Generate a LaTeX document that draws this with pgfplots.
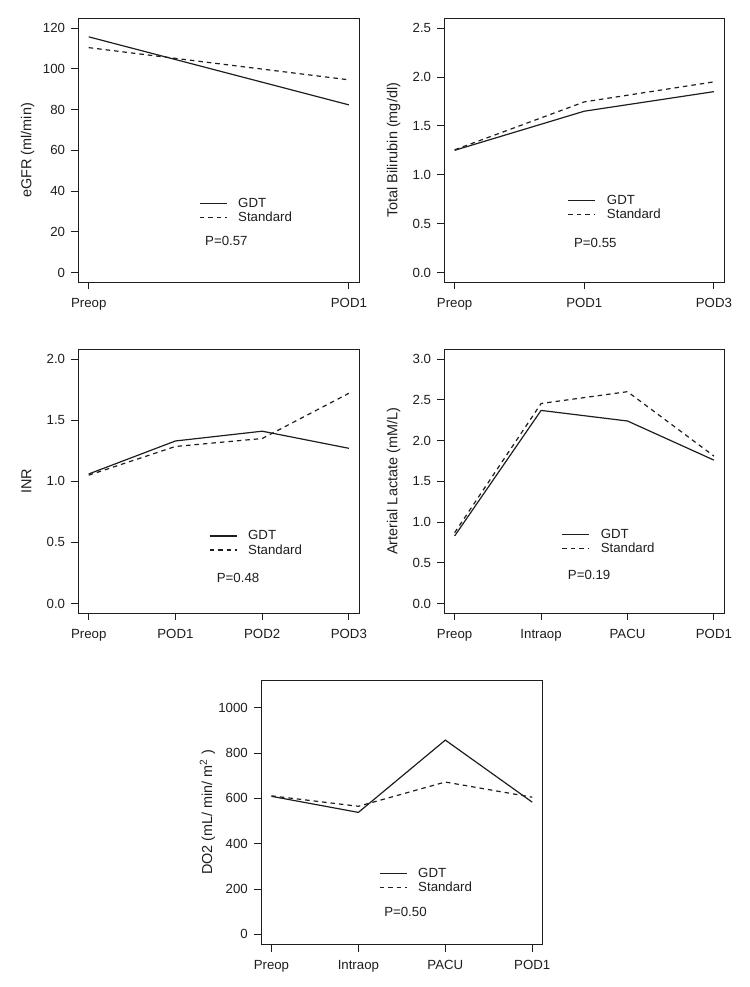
\documentclass[border=0pt]{standalone}
\usepackage{fontspec}
\setmainfont{Liberation Sans}
\usepackage{pgfplots}
\pgfplotsset{compat=1.18}
\definecolor{ink}{HTML}{1E1E1E}
\tikzset{
  gdt/.style={ink, line width=1.2bp, solid},
  std/.style={ink, line width=1.2bp, dash pattern=on 4.5bp off 4bp},
  pval/.style={anchor=west, inner sep=0pt, font=\fontsize{13.3}{15}\selectfont, text=ink},
}
\pgfplotsset{
  rpanel/.style={
    scale only axis, width=281bp, height=264bp,
    anchor=south west,
    axis line style={line width=0.9bp, ink},
    tick align=outside, major tick length=7bp,
    tick style={line width=0.9bp, ink},
    xtick pos=bottom, ytick pos=left,
    minor tick num=0,
    ticklabel style={font=\fontsize{13.3}{15}\selectfont, inner sep=0pt, text=ink},
    xticklabel shift=9bp, yticklabel shift=6bp,
    every axis y label/.style={at={(rel axis cs:0,0.5)}, rotate=90, yshift=47bp, anchor=base, font=\fontsize{14.5}{16}\selectfont, text=ink},
    legend style={draw=none, fill=none, inner sep=0pt, outer sep=0pt, anchor=west,
      font=\fontsize{13.3}{15}\selectfont, text=ink, row sep=3bp,
      nodes={inner sep=0pt},
      /tikz/every odd column/.append style={column sep=11bp}},
    legend cell align=left,
    legend image code/.code={\draw[##1] (0bp,0bp) -- (27bp,0bp);},
  },
}
\begin{document}
\begin{tikzpicture}
\path[use as bounding box] (0,0) rectangle (750bp,-987bp);

% Panel 1: eGFR
\begin{axis}[rpanel, at={(78.3bp,-282.3bp)},
  xmin=-0.04, xmax=1.04, xtick={0,1}, xticklabels={Preop,POD1},
  ymin=-4.8, ymax=124.8, ytick={0,20,40,60,80,100,120},
  yticklabels={0,20,40,60,80,100,120},
  ylabel={eGFR (ml/min)},
  legend style={at={(rel axis cs:0.4295,0.272)}}]
\addplot[gdt] coordinates {(0,115.7) (1,82.3)};
\addplot[std] coordinates {(0,110.4) (1,94.6)};
\legend{GDT,Standard}
\node[pval] at (rel axis cs:0.451,0.156) {P=0.57};
\end{axis}

% Panel 2: Total Bilirubin
\begin{axis}[rpanel, at={(444.3bp,-282.3bp)}, width=280bp,
  xmin=-0.08, xmax=2.08, xtick={0,1,2}, xticklabels={Preop,POD1,POD3},
  ymin=-0.1, ymax=2.6, ytick={0,0.5,1,1.5,2,2.5},
  yticklabels={0.0,0.5,1.0,1.5,2.0,2.5},
  ylabel={Total Bilirubin (mg/dl)},
  legend style={at={(rel axis cs:0.441,0.284)}}]
\addplot[gdt] coordinates {(0,1.25) (1,1.65) (2,1.85)};
\addplot[std] coordinates {(0,1.255) (1,1.745) (2,1.95)};
\legend{GDT,Standard}
\node[pval] at (rel axis cs:0.463,0.150) {P=0.55};
\end{axis}

% Panel 3: INR
\begin{axis}[rpanel, at={(78.3bp,-613.3bp)},
  xmin=-0.12, xmax=3.12, xtick={0,1,2,3}, xticklabels={Preop,POD1,POD2,POD3},
  ymin=-0.08, ymax=2.08, ytick={0,0.5,1,1.5,2},
  yticklabels={0.0,0.5,1.0,1.5,2.0},
  ylabel={INR},
  legend style={at={(rel axis cs:0.465,0.266)}}]
\addplot[gdt] coordinates {(0,1.06) (1,1.33) (2,1.41) (3,1.27)};
\addplot[std] coordinates {(0,1.05) (1,1.285) (2,1.35) (3,1.72)};
\legend{GDT,Standard}
\node[pval] at (rel axis cs:0.4925,0.133) {P=0.48};
\end{axis}

% Panel 4: Arterial Lactate
\begin{axis}[rpanel, at={(444.3bp,-613.3bp)}, width=280bp,
  xmin=-0.12, xmax=3.12, xtick={0,1,2,3}, xticklabels={Preop,Intraop,PACU,POD1},
  ymin=-0.12, ymax=3.12, ytick={0,0.5,1,1.5,2,2.5,3},
  yticklabels={0.0,0.5,1.0,1.5,2.0,2.5,3.0},
  ylabel={Arterial Lactate (mM/L)},
  legend style={at={(rel axis cs:0.419,0.272)}}]
\addplot[gdt] coordinates {(0,0.83) (1,2.37) (2,2.24) (3,1.76)};
\addplot[std] coordinates {(0,0.87) (1,2.455) (2,2.60) (3,1.81)};
\legend{GDT,Standard}
\node[pval] at (rel axis cs:0.441,0.145) {P=0.19};
\end{axis}

% Panel 5: DO2
\begin{axis}[rpanel, at={(261bp,-944.5bp)}, width=281.7bp,
  xmin=-0.12, xmax=3.12, xtick={0,1,2,3}, xticklabels={Preop,Intraop,PACU,POD1},
  ymin=-45, ymax=1120, ytick={0,200,400,600,800,1000},
  yticklabels={0,200,400,600,800,1000},
  ylabel={DO2 (mL/ min/ m\textsuperscript{2} )},
  every axis y label/.append style={yshift=2bp},
  legend style={at={(rel axis cs:0.419,0.243)}}]
\addplot[gdt] coordinates {(0,609) (1,538) (2,857) (3,583)};
\addplot[std] coordinates {(0,611) (1,565) (2,672) (3,605)};
\legend{GDT,Standard}
\node[pval] at (rel axis cs:0.437,0.124) {P=0.50};
\end{axis}
\end{tikzpicture}
\end{document}
